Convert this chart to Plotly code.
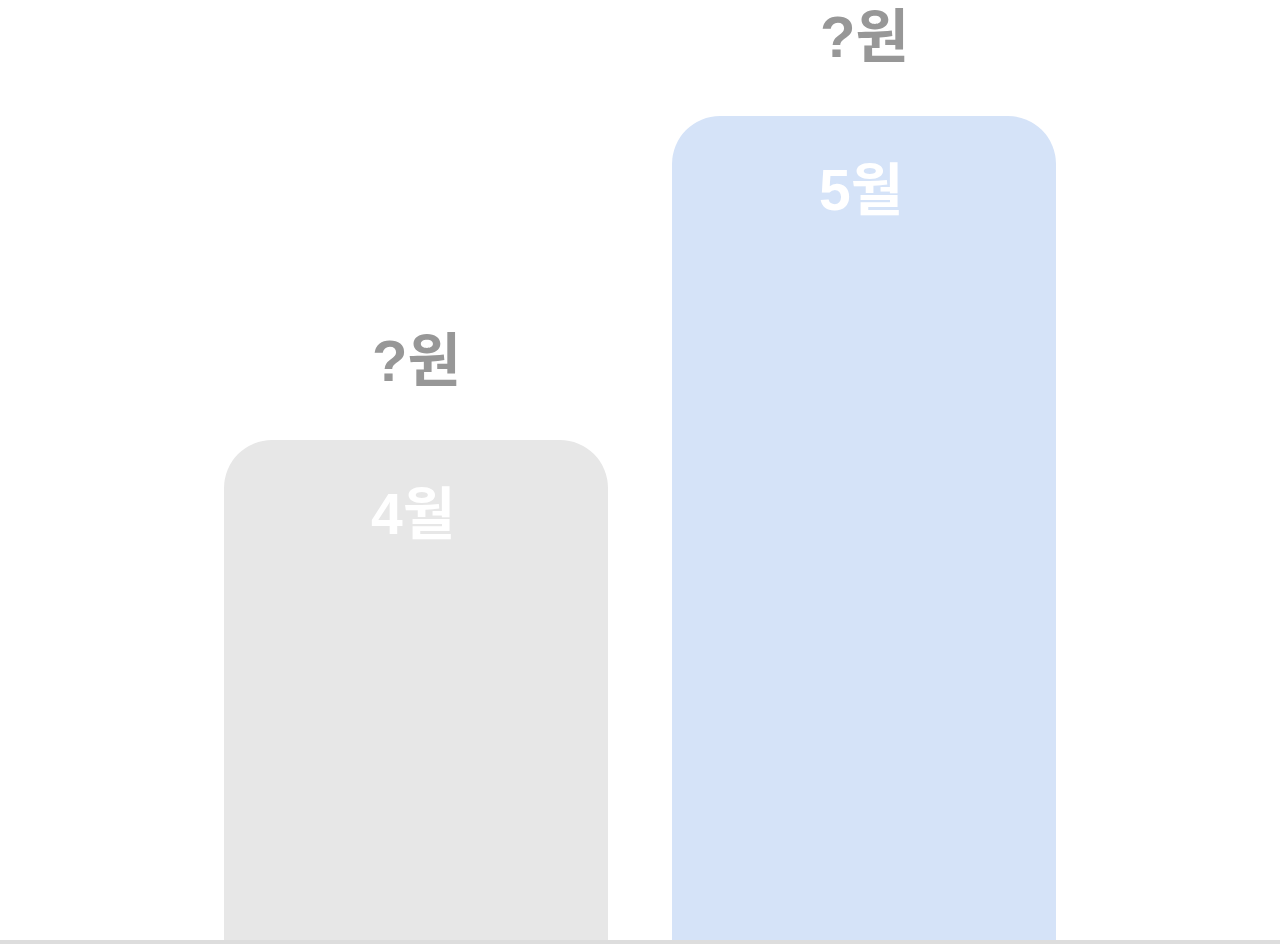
import plotly.graph_objects as go

months = ["4월", "5월"]
amount_labels = ["?원", "?원"]
values = [500, 824]
bar_colors = ["#e7e7e7", "#d5e3f8"]

positions = list(range(len(months)))
px_per_unit = 448.0
width_px = 1280
x0 = -416.0 / px_per_unit
x1 = x0 + width_px / px_per_unit

fig = go.Figure()
fig.add_trace(go.Bar(
    x=positions,
    y=values,
    width=384.0 / px_per_unit,
    marker=dict(color=bar_colors, line=dict(width=0)),
    hoverinfo="skip",
))

font_family = "Liberation Sans, Noto Sans CJK KR, sans-serif"
annotations = []
for p, v, m, a in zip(positions, values, months, amount_labels):
    annotations.append(dict(
        x=p, y=v, xref="x", yref="y", text=a, showarrow=False,
        yshift=80, yanchor="middle", xanchor="center",
        font=dict(family=font_family, size=58, color="#979797", weight="bold"),
    ))
    annotations.append(dict(
        x=p, y=v, xref="x", yref="y", text=m, showarrow=False,
        yshift=-74, xshift=-3, yanchor="middle", xanchor="center",
        font=dict(family=font_family, size=57, color="#ffffff", weight="bold"),
    ))

fig.update_layout(
    width=1280, height=944,
    margin=dict(l=0, r=0, t=0, b=4),
    paper_bgcolor="white", plot_bgcolor="white",
    showlegend=False,
    barcornerradius=48,
    annotations=annotations,
    xaxis=dict(range=[x0, x1], visible=False, fixedrange=True),
    yaxis=dict(range=[0, 940], visible=False, fixedrange=True),
    shapes=[dict(type="rect", xref="paper", yref="paper", x0=0, x1=1,
                 y0=-4.0 / 940, y1=0, fillcolor="#dddddd", line=dict(width=0))],
)

fig.write_html("out.html", config={"displayModeBar": False})
